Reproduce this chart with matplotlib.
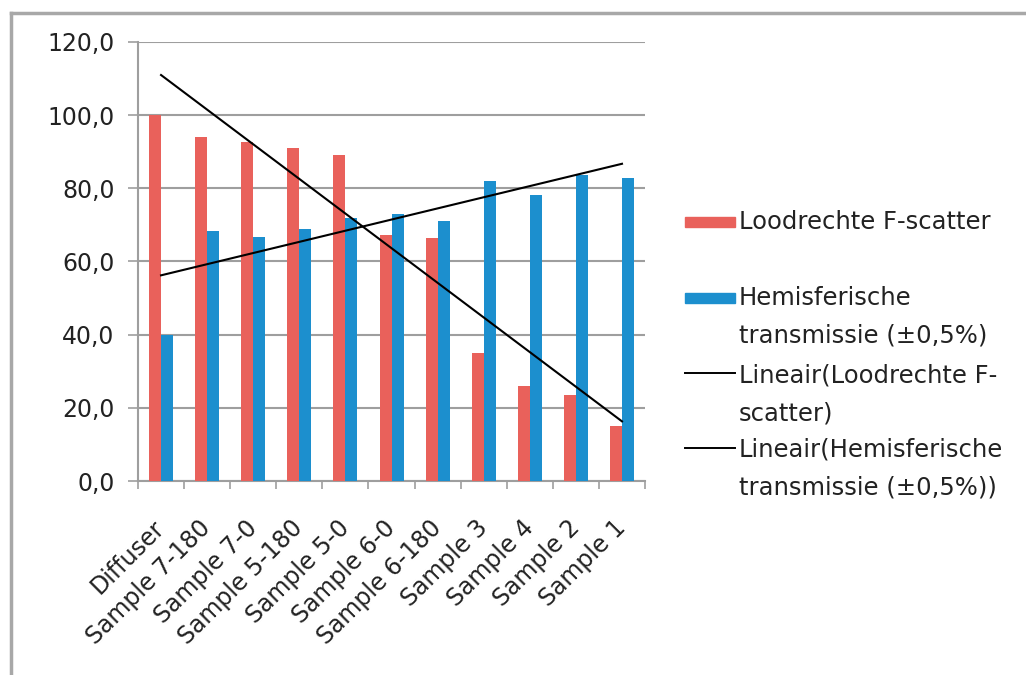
import matplotlib.pyplot as plt
from matplotlib.lines import Line2D
from matplotlib.patches import Rectangle
import numpy as np

# data
categories = ["Diffuser", "Sample 7-180", "Sample 7-0", "Sample 5-180", "Sample 5-0",
              "Sample 6-0", "Sample 6-180", "Sample 3", "Sample 4", "Sample 2", "Sample 1"]
loodrecht = [100.0, 94.1, 92.7, 90.9, 89.1, 67.2, 66.3, 35.1, 26.0, 23.5, 15.1]
hemisferisch = [39.9, 68.3, 66.6, 68.9, 71.8, 73.1, 71.0, 82.0, 78.2, 83.6, 82.7]
y_ticks = [0, 20, 40, 60, 80, 100, 120]

rood = '#E9615B'
blauw = '#1C8FCE'
grijs = '#9E9E9E'
tekst = '#222222'

W, H = 1026, 675
fig = plt.figure(figsize=(W / 100, H / 100), dpi=100)
ax = fig.add_axes([0.1345, 0.2874, 0.4942, 0.6504])

x = np.arange(len(categories))
w = 0.26
ax.bar(x - w / 2, loodrecht, w, color=rood, zorder=3)
ax.bar(x + w / 2, hemisferisch, w, color=blauw, zorder=3)

# lineaire trendlijnen
a1, b1 = np.polyfit(x, loodrecht, 1)
a2, b2 = np.polyfit(x, hemisferisch, 1)
ax.plot(x, a1 * x + b1, color='black', lw=1.5, zorder=4)
ax.plot(x, a2 * x + b2, color='black', lw=1.5, zorder=4)

ax.set_xlim(-0.5, len(categories) - 0.5)
ax.set_ylim(0, 120)
ax.set_yticks(y_ticks)
ax.set_yticklabels([("%.1f" % v).replace('.', ',') for v in y_ticks], fontsize=17, color=tekst)
ax.yaxis.grid(True, color=grijs, lw=1.5, zorder=0)
ax.tick_params(axis='y', length=7, width=1.2, color=grijs, pad=10)

ax.set_xticks(x)
ax.set_xticklabels(categories, rotation=45, ha='right', va='center', rotation_mode='anchor',
                   fontsize=17, color=tekst)
ax.set_xticks(np.arange(-0.5, len(categories)), minor=True)
ax.tick_params(axis='x', which='major', length=0, pad=31)
ax.tick_params(axis='x', which='minor', length=6, width=1.2, color=grijs)

for s in ['top', 'right']:
    ax.spines[s].set_visible(False)
for s in ['left', 'bottom']:
    ax.spines[s].set_color(grijs)
    ax.spines[s].set_linewidth(1.5)

# legenda (handmatig, eerste regel van elk item naast het symbool)
legenda = [("patch", rood, ["Loodrechte F-scatter"], 222),
           ("patch", blauw, ["Hemisferische", "transmissie (±0,5%)"], 298),
           ("line", 'black', ["Lineair(Loodrechte F-", "scatter)"], 375),
           ("line", 'black', ["Lineair(Hemisferische", "transmissie (±0,5%))"], 450)]
for soort, kleur, regels, ypix in legenda:
    if soort == "patch":
        fig.add_artist(Rectangle((685 / W, 1 - (ypix + 5) / H), 50 / W, 10 / H,
                                 color=kleur, transform=fig.transFigure))
    else:
        fig.add_artist(Line2D([685 / W, 735 / W], [1 - (ypix - 2) / H] * 2,
                              color=kleur, lw=1.4))
    for k, r in enumerate(regels):
        fig.text(739 / W, 1 - (ypix + k * 38) / H, r, fontsize=17.5, color=tekst,
                 ha='left', va='center')

# grijze rand van de afbeelding
fig.add_artist(Line2D([0.011, 0.011], [0, 0.981], color='#A8A8A8', lw=2.5))
fig.add_artist(Line2D([0.011, 1], [0.981, 0.981], color='#A8A8A8', lw=2.5))

fig.savefig('out.png', dpi=100)
